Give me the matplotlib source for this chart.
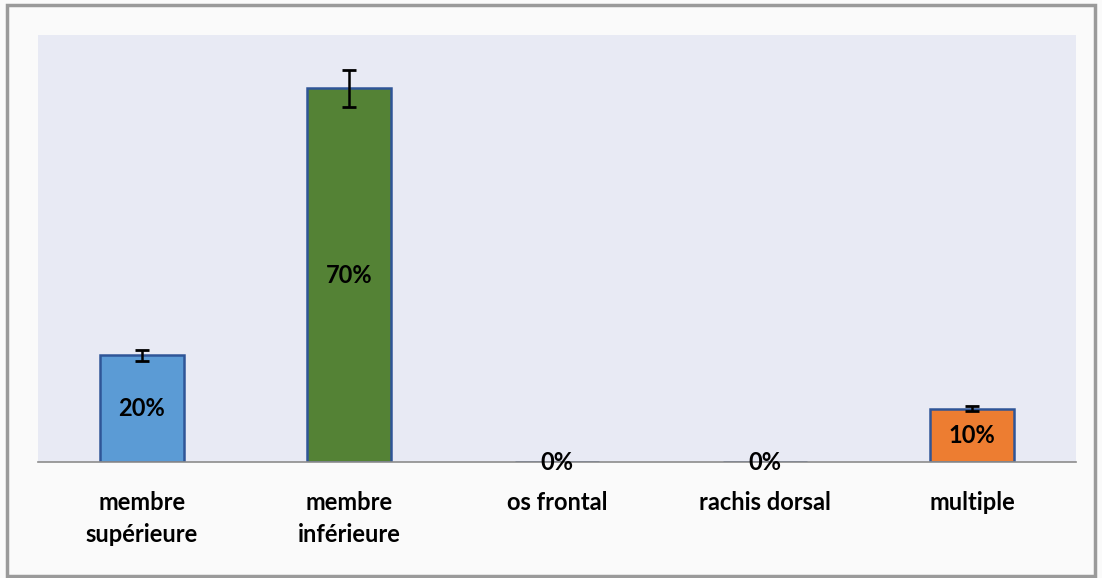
import matplotlib
matplotlib.use('Agg')
import matplotlib.pyplot as plt
from matplotlib.patches import Rectangle

categories = ['membre\nsupérieure', 'membre\ninférieure', 'os frontal', 'rachis dorsal', 'multiple']
values = [20, 70, 0, 0, 10]
errors = [1.0, 3.4, 0, 0, 0.4]
labels = ['20%', '70%', '0%', '0%', '10%']
colors = ['#5B9BD5', '#548235', '#5B9BD5', '#5B9BD5', '#ED7D31']

plt.rcParams['font.family'] = ['Lato', 'DejaVu Sans']

fig = plt.figure(figsize=(11.02, 5.78), dpi=100)
fig.patch.set_facecolor('#FAFAFA')
# outer frame
fig.patches.append(Rectangle((0.006, 0.004), 0.988, 0.988, transform=fig.transFigure,
                             fill=False, edgecolor='#9A9A9A', linewidth=2.5))

ax = fig.add_axes([38/1102, 1-462/578, 1038/1102, 427/578])
ax.set_facecolor('#E8EAF4')
x = list(range(len(categories)))
ax.bar(x, values, width=0.405, color=colors, edgecolor='#2F5597', linewidth=1.8, zorder=2)
for i in x:
    if errors[i] > 0:
        ax.errorbar(i, values[i], yerr=errors[i], fmt='none', ecolor='black',
                    elinewidth=1.8, capsize=5, capthick=2, zorder=3)
    y = values[i] / 2 if values[i] > 0 else 0
    ax.text(i, y, labels[i], ha='center', va='center', fontsize=17,
            fontweight='bold', color='black', zorder=4)

ax.set_xlim(-0.5, 4.5)
ax.set_ylim(0, 80)
ax.set_yticks([])
ax.set_xticks(x)
ax.set_xticklabels(categories, fontsize=17, fontweight='bold', linespacing=1.45)
ax.tick_params(axis='x', length=0, pad=21)
for s in ['top', 'right', 'left']:
    ax.spines[s].set_visible(False)
ax.spines['bottom'].set_color('#8C8C8C')
ax.spines['bottom'].set_linewidth(1.2)

fig.savefig('out.png', dpi=100, facecolor=fig.get_facecolor())
